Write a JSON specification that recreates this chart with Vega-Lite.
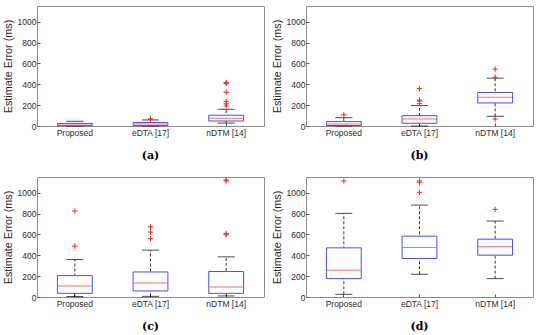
{
  "$schema": "https://vega.github.io/schema/vega-lite/v6.json",
  "padding": {"left": 1, "top": 5, "right": 4, "bottom": 2},
  "background": "white",
  "data": {"values": [
    {"panel": "a", "kind": "box", "method": "Proposed", "lo": 0, "q1": 3, "med": 10, "q3": 25, "hi": 45},
    {"panel": "a", "kind": "box", "method": "eDTA [17]", "lo": 0, "q1": 4, "med": 18, "q3": 34, "hi": 58},
    {"panel": "a", "kind": "box", "method": "nDTM [14]", "lo": 28, "q1": 48, "med": 74, "q3": 103, "hi": 160},
    {"panel": "a", "kind": "out", "method": "eDTA [17]", "value": 62},
    {"panel": "a", "kind": "out", "method": "eDTA [17]", "value": 68},
    {"panel": "a", "kind": "out", "method": "nDTM [14]", "value": 418},
    {"panel": "a", "kind": "out", "method": "nDTM [14]", "value": 408},
    {"panel": "a", "kind": "out", "method": "nDTM [14]", "value": 324},
    {"panel": "a", "kind": "out", "method": "nDTM [14]", "value": 236},
    {"panel": "a", "kind": "out", "method": "nDTM [14]", "value": 212},
    {"panel": "a", "kind": "out", "method": "nDTM [14]", "value": 192},
    {"panel": "b", "kind": "box", "method": "Proposed", "lo": 0, "q1": 5, "med": 20, "q3": 42, "hi": 80},
    {"panel": "b", "kind": "box", "method": "eDTA [17]", "lo": 0, "q1": 26, "med": 67, "q3": 99, "hi": 196},
    {"panel": "b", "kind": "box", "method": "nDTM [14]", "lo": 93, "q1": 221, "med": 276, "q3": 321, "hi": 458},
    {"panel": "b", "kind": "out", "method": "Proposed", "value": 108},
    {"panel": "b", "kind": "out", "method": "eDTA [17]", "value": 359},
    {"panel": "b", "kind": "out", "method": "eDTA [17]", "value": 248},
    {"panel": "b", "kind": "out", "method": "eDTA [17]", "value": 238},
    {"panel": "b", "kind": "out", "method": "eDTA [17]", "value": 214},
    {"panel": "b", "kind": "out", "method": "nDTM [14]", "value": 545},
    {"panel": "b", "kind": "out", "method": "nDTM [14]", "value": 468},
    {"panel": "b", "kind": "out", "method": "nDTM [14]", "value": 67},
    {"panel": "c", "kind": "box", "method": "Proposed", "lo": 5, "q1": 35, "med": 106, "q3": 205, "hi": 359},
    {"panel": "c", "kind": "box", "method": "eDTA [17]", "lo": 6, "q1": 58, "med": 135, "q3": 240, "hi": 449},
    {"panel": "c", "kind": "box", "method": "nDTM [14]", "lo": 10, "q1": 35, "med": 96, "q3": 244, "hi": 385},
    {"panel": "c", "kind": "out", "method": "Proposed", "value": 824},
    {"panel": "c", "kind": "out", "method": "Proposed", "value": 487},
    {"panel": "c", "kind": "out", "method": "eDTA [17]", "value": 673},
    {"panel": "c", "kind": "out", "method": "eDTA [17]", "value": 622},
    {"panel": "c", "kind": "out", "method": "eDTA [17]", "value": 558},
    {"panel": "c", "kind": "out", "method": "nDTM [14]", "value": 1122},
    {"panel": "c", "kind": "out", "method": "nDTM [14]", "value": 1112},
    {"panel": "c", "kind": "out", "method": "nDTM [14]", "value": 609},
    {"panel": "c", "kind": "out", "method": "nDTM [14]", "value": 596},
    {"panel": "d", "kind": "box", "method": "Proposed", "lo": 26, "q1": 176, "med": 256, "q3": 471, "hi": 801},
    {"panel": "d", "kind": "box", "method": "eDTA [17]", "lo": 218, "q1": 369, "med": 474, "q3": 583, "hi": 881},
    {"panel": "d", "kind": "box", "method": "nDTM [14]", "lo": 176, "q1": 401, "med": 481, "q3": 554, "hi": 728},
    {"panel": "d", "kind": "out", "method": "Proposed", "value": 1112},
    {"panel": "d", "kind": "out", "method": "eDTA [17]", "value": 1112},
    {"panel": "d", "kind": "out", "method": "eDTA [17]", "value": 1096},
    {"panel": "d", "kind": "out", "method": "eDTA [17]", "value": 1003},
    {"panel": "d", "kind": "out", "method": "nDTM [14]", "value": 840}
  ]},
  "facet": {
    "field": "panel", "type": "nominal",
    "header": {
      "title": null,
      "labelOrient": "bottom",
      "labelExpr": "'(' + datum.value + ')'",
      "labelFont": "DejaVu Serif",
      "labelFontWeight": "bold",
      "labelFontSize": 11,
      "labelColor": "black",
      "labelPadding": 13
    }
  },
  "columns": 2,
  "spacing": {"column": 5, "row": 13},
  "resolve": {"axis": {"x": "independent", "y": "independent"}},
  "spec": {
    "width": 227,
    "height": 120,
    "encoding": {
      "x": {
        "field": "method", "type": "nominal",
        "sort": ["Proposed", "eDTA [17]", "nDTM [14]"],
        "scale": {"paddingInner": 0, "paddingOuter": 0},
        "axis": {"title": null, "labelAngle": 0, "labelPadding": 5}
      }
    },
    "layer": [
      {
        "transform": [{"filter": "datum.kind == 'box'"}],
        "mark": {"type": "rule", "color": "black", "strokeDash": [3, 2], "strokeWidth": 0.8},
        "encoding": {
          "y": {"field": "lo", "type": "quantitative", "scale": {"domain": [0, 1150], "nice": false},
            "axis": {"title": "Estimate Error (ms)", "values": [0, 200, 400, 600, 800, 1000], "labelOverlap": false, "format": "d"}},
          "y2": {"field": "hi"}
        }
      },
      {
        "transform": [{"filter": "datum.kind == 'box'"}],
        "mark": {"type": "tick", "color": "black", "size": 17, "thickness": 1},
        "encoding": {"y": {"field": "lo", "type": "quantitative",
          "axis": {"title": "Estimate Error (ms)", "values": [0, 200, 400, 600, 800, 1000], "labelOverlap": false, "format": "d"}}}
      },
      {
        "transform": [{"filter": "datum.kind == 'box'"}],
        "mark": {"type": "tick", "color": "black", "size": 17, "thickness": 1},
        "encoding": {"y": {"field": "hi", "type": "quantitative",
          "axis": {"title": "Estimate Error (ms)", "values": [0, 200, 400, 600, 800, 1000], "labelOverlap": false, "format": "d"}}}
      },
      {
        "transform": [{"filter": "datum.kind == 'box'"}],
        "mark": {"type": "bar", "fill": "white", "stroke": "#4a4aff", "strokeWidth": 1, "width": {"band": 0.46}},
        "encoding": {
          "y": {"field": "q1", "type": "quantitative",
            "axis": {"title": "Estimate Error (ms)", "values": [0, 200, 400, 600, 800, 1000], "labelOverlap": false, "format": "d"}},
          "y2": {"field": "q3"}
        }
      },
      {
        "transform": [{"filter": "datum.kind == 'box'"}],
        "mark": {"type": "tick", "color": "#ff3030", "size": 34, "thickness": 1},
        "encoding": {"y": {"field": "med", "type": "quantitative",
          "axis": {"title": "Estimate Error (ms)", "values": [0, 200, 400, 600, 800, 1000], "labelOverlap": false, "format": "d"}}}
      },
      {
        "transform": [{"filter": "datum.kind == 'out'"}],
        "mark": {"type": "point", "shape": "M-1,0H1M0,-1V1", "filled": false, "stroke": "#ff2020", "strokeWidth": 1, "size": 28, "opacity": 1},
        "encoding": {"y": {"field": "value", "type": "quantitative",
          "axis": {"title": "Estimate Error (ms)", "values": [0, 200, 400, 600, 800, 1000], "labelOverlap": false, "format": "d"}}}
      }
    ]
  },
  "config": {
    "view": {"stroke": "#8a8a8a", "strokeWidth": 1},
    "axis": {
      "grid": false,
      "domain": false,
      "labelFont": "Liberation Sans",
      "labelFontSize": 8.5,
      "labelColor": "#2a2a2a",
      "titleFont": "Liberation Sans",
      "titleFontSize": 10.8,
      "titleFontWeight": "normal",
      "titleColor": "#2a2a2a",
      "tickColor": "#555555",
      "tickSize": -3
    },
    "axisY": {"titlePadding": 4, "labelPadding": 4}
  }
}
